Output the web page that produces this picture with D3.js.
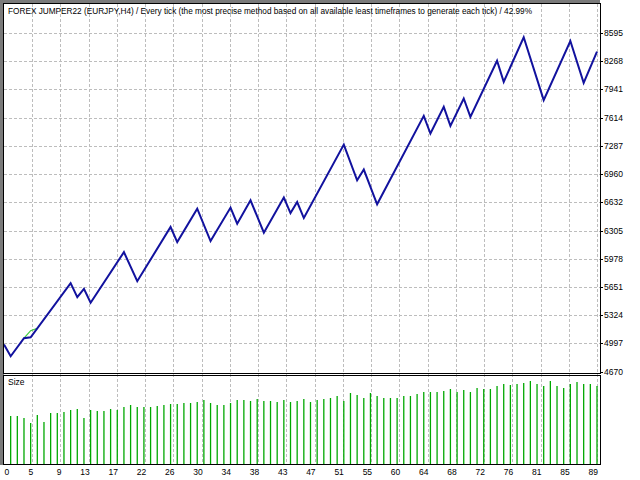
<!DOCTYPE html>
<html>
<head>
<meta charset="utf-8">
<script src="https://cdn.jsdelivr.net/npm/d3@7"></script>
<style>
  body { margin: 0; background: #fff; }
  svg { display: block; }
  text { font-family: "Liberation Sans", Arial, sans-serif; font-size: 8.5px; fill: #000; }
</style>
</head>
<body>
<svg id="chart" width="640" height="480"></svg>
<script>
'use strict'

var title = "FOREX JUMPER22 (EURJPY,H4) / Every tick (the most precise method based on all available least timeframes to generate each tick) / 42.99%"

// balance line vertices (trade number, balance)
var tradeNo = [0, 1, 3, 4, 10, 11, 12, 13, 18, 20, 25, 26, 29, 31, 34, 35, 37, 39, 42, 43,
  44, 45, 51, 53, 54, 56, 63, 64, 66, 67, 69, 70, 74, 75, 78, 81, 85, 87, 89]
var balance = [4984, 4848, 5057, 5068, 5695, 5533, 5630, 5468, 6055, 5718, 6346, 6171, 6559, 6183, 6571, 6385, 6656, 6280, 6687, 6508,
  6636, 6450, 7302, 6888, 7012, 6609, 7634, 7430, 7739, 7518, 7836, 7623, 8273, 8029, 8545, 7817, 8502, 8018, 8378]

// equity, only where it leaves the balance line
var equityNo = [3, 4, 5]
var equity = [5057, 5144, 5172]

// lot size per trade, trades 1..89
var lots = [0.48, 0.48, 0.46, 0.41, 0.49, 0.42, 0.51, 0.51, 0.52, 0.54,
  0.55, 0.46, 0.54, 0.53, 0.53, 0.55, 0.54, 0.57, 0.59, 0.57,
  0.57, 0.57, 0.58, 0.59, 0.60, 0.60, 0.61, 0.61, 0.62, 0.64,
  0.61, 0.59, 0.59, 0.61, 0.64, 0.64, 0.63, 0.65, 0.63, 0.63,
  0.62, 0.64, 0.62, 0.63, 0.65, 0.62, 0.64, 0.65, 0.66, 0.68,
  0.63, 0.71, 0.69, 0.66, 0.71, 0.68, 0.66, 0.66, 0.66, 0.68,
  0.68, 0.70, 0.72, 0.72, 0.72, 0.73, 0.75, 0.72, 0.74, 0.72,
  0.76, 0.75, 0.75, 0.78, 0.80, 0.79, 0.80, 0.81, 0.83, 0.80,
  0.78, 0.83, 0.78, 0.76, 0.80, 0.82, 0.80, 0.80, 0.78]

var xTicks = ["0", "5", "9", "13", "17", "22", "26", "30", "34", "38", "43", "47", "51", "55", "60", "64", "68", "72", "76", "81", "85", "89"]
var yTicks = [4670, 4997, 5324, 5651, 5978, 6305, 6632, 6960, 7287, 7614, 7941, 8268, 8595]

function draw() {
  var svg = d3.select("#chart")

  var left = 4, right = 600, plotTop = 4, mainBottom = 373, sizeTop = 376, sizeBottom = 464

  var x = d3.scaleLinear().domain([0, 89]).range([left, 597])
  var xGrid = d3.scalePoint().domain(xTicks).range([left, 597])
  var y = d3.scaleLinear().domain([4670, 8595]).range([371.6, 33])
  var yLot = d3.scaleLinear().domain([0, 0.88]).range([sizeBottom, sizeTop])

  // outer shading on the left and top
  svg.append("rect").attr("x", 0).attr("y", 0).attr("width", left).attr("height", sizeBottom + 1).attr("fill", "#7a7a7a")
  svg.append("rect").attr("x", 0).attr("y", 0).attr("width", right).attr("height", 3).attr("fill", "#7a7a7a")

  // grid
  var grid = svg.append("g").attr("stroke", "#bdbdbd").attr("stroke-dasharray", "3,2").attr("stroke-width", 1)
  grid.selectAll(".hg").data(yTicks.slice(1)).enter().append("line")
    .attr("x1", left).attr("x2", right)
    .attr("y1", d => Math.round(y(d)) + 0.5).attr("y2", d => Math.round(y(d)) + 0.5)
  grid.selectAll(".vg").data(xTicks.slice(1)).enter().append("line")
    .attr("x1", d => Math.round(xGrid(d)) + 0.5).attr("x2", d => Math.round(xGrid(d)) + 0.5)
    .attr("y1", plotTop).attr("y2", sizeBottom)

  // size bars
  svg.append("g").selectAll("line").data(lots).enter().append("line")
    .attr("x1", (d, i) => x(i + 1)).attr("x2", (d, i) => x(i + 1))
    .attr("y1", sizeBottom).attr("y2", d => yLot(d))
    .attr("stroke", "#00a800").attr("stroke-width", 1.3)

  // equity and balance
  var pts = tradeNo.map((t, i) => [t, balance[i]])
  var eqPts = equityNo.map((t, i) => [t, equity[i]])
  var line = d3.line().x(d => x(d[0])).y(d => y(d[1]))

  svg.append("path").datum(eqPts).attr("d", line)
    .attr("fill", "none").attr("stroke", "#3ccc3c").attr("stroke-width", 1.2)
  svg.append("path").datum(pts).attr("d", line)
    .attr("fill", "none").attr("stroke", "#12129e").attr("stroke-width", 2)

  // frames
  var frame = svg.append("g").attr("fill", "none").attr("stroke", "#000").attr("stroke-width", 1)
  frame.append("rect").attr("x", left - 0.5).attr("y", plotTop - 0.5).attr("width", right - left + 1).attr("height", mainBottom - plotTop + 1)
  frame.append("rect").attr("x", left - 0.5).attr("y", sizeTop - 0.5).attr("width", right - left + 1).attr("height", sizeBottom - sizeTop + 1)

  // y axis labels
  var yAxis = svg.append("g")
  yAxis.selectAll("line").data(yTicks).enter().append("line")
    .attr("x1", right).attr("x2", right + 3)
    .attr("y1", d => Math.round(y(d)) + 0.5).attr("y2", d => Math.round(y(d)) + 0.5)
    .attr("stroke", "#000")
  yAxis.selectAll("text").data(yTicks).enter().append("text")
    .attr("x", right + 4).attr("y", d => y(d) + 3)
    .text(d => d)

  // x axis labels
  svg.append("g").selectAll("text").data(xTicks).enter().append("text")
    .attr("x", (d, i) => i === 0 ? xGrid(d) + 0.5 : xGrid(d) + 1)
    .attr("y", 475)
    .attr("text-anchor", (d, i) => i === 0 ? "start" : "end")
    .text(d => d)

  svg.append("text").attr("x", 8).attr("y", 385).text("Size")
  svg.append("text").attr("x", 8).attr("y", 14)
    .attr("textLength", 524).attr("lengthAdjust", "spacingAndGlyphs")
    .text(title)
}

draw()
</script>
</body>
</html>
